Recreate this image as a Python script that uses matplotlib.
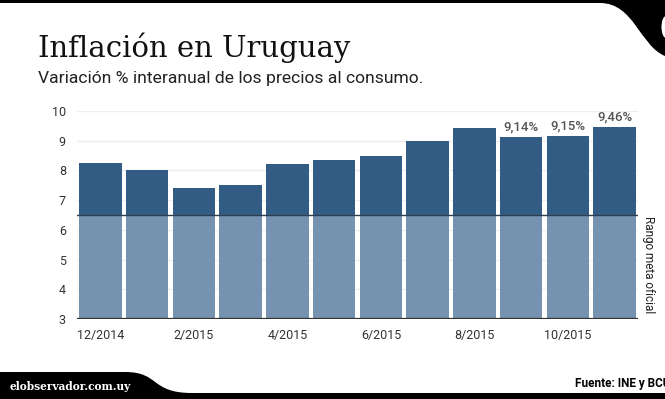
import matplotlib
matplotlib.use("Agg")
import matplotlib.pyplot as plt
import matplotlib.patches as mpatches
from matplotlib.path import Path
import numpy as np

# data
months = ["12/2014", "1/2015", "2/2015", "3/2015", "4/2015", "5/2015",
          "6/2015", "7/2015", "8/2015", "9/2015", "10/2015", "11/2015"]
inflation = [8.24, 8.00, 7.41, 7.52, 8.21, 8.36, 8.49, 8.98, 9.44, 9.14, 9.15, 9.46]
labelled = {9: "9,14%", 10: "9,15%", 11: "9,46%"}
target_low = 3.0
target_high = 6.5
yticks = [3, 4, 5, 6, 7, 8, 9, 10]

dark = "#325c84"
light = "#7593b0"

W, H = 665, 399
fig = plt.figure(figsize=(W / 100, H / 100), dpi=100)

# background layer in pixel coordinates (frame decorations)
bg = fig.add_axes([0, 0, 1, 1])
bg.set_xlim(0, W)
bg.set_ylim(H, 0)
bg.axis("off")

top = Path([(0, 0), (W, 0), (W, 56), (640, 46), (634, 3), (600, 3), (0, 3), (0, 0)],
           [Path.MOVETO, Path.LINETO, Path.LINETO, Path.CURVE4, Path.CURVE4,
            Path.CURVE4, Path.LINETO, Path.CLOSEPOLY])
bg.add_patch(mpatches.PathPatch(top, fc="black", ec="none"))
bg.add_patch(mpatches.Ellipse((666, 27), 9, 22, fc="white", ec="none"))

foot = Path([(0, 372), (125, 372), (160, 372), (150, 393), (192, 393),
             (W, 393), (W, H), (0, H), (0, 372)],
            [Path.MOVETO, Path.LINETO, Path.CURVE4, Path.CURVE4, Path.CURVE4,
             Path.LINETO, Path.LINETO, Path.LINETO, Path.CLOSEPOLY])
bg.add_patch(mpatches.PathPatch(foot, fc="black", ec="none"))

bg.text(10, 390, "elobservador.com.uy", color="white", fontsize=7.7,
        fontweight="bold", family="DejaVu Serif", va="baseline", ha="left")
bg.text(575, 387, "Fuente: INE y BCU", color="black", fontsize=8.5,
        fontweight="bold", family="Roboto", va="baseline", ha="left")

bg.text(38, 57, "Inflación en Uruguay", fontsize=21, family="DejaVu Serif",
        color="#111111", va="baseline", ha="left")
bg.text(38, 83, "Variación % interanual de los precios al consumo.", fontsize=12.6,
        family="Roboto", color="#222222", va="baseline", ha="left")

# chart
ax = fig.add_axes([77 / W, 1 - 319 / H, (638 - 77) / W, (319 - 111) / H])
ax.patch.set_alpha(0)
x = np.arange(len(months))
bw = 0.905
vals = np.array(inflation)
ax.bar(x, vals - target_low, bottom=target_low, width=bw, color=dark, zorder=2)
ax.bar(x, np.full(len(x), target_high - target_low), bottom=target_low, width=bw,
       color=light, zorder=3)
ax.axhline(target_high, color="#2d3e50", lw=1.0, zorder=4)
ax.axhline(target_low, color="#333333", lw=1.6, zorder=5)

for i, txt in labelled.items():
    ax.text(i, inflation[i] + 0.12, txt, ha="center", va="bottom", fontsize=9.5,
            family="Roboto", fontweight="medium", color="#555555")

ax.set_xlim(-0.5, len(x) - 0.5)
ax.set_ylim(3, 10)
ax.set_yticks(yticks)
ax.set_yticklabels([str(v) for v in yticks])
ax.set_xticks(x[::2])
ax.set_xticklabels(months[::2])
ax.tick_params(length=0, labelsize=9, colors="#333333", pad=8)
ax.tick_params(axis="x", pad=7)
for lab in ax.get_xticklabels() + ax.get_yticklabels():
    lab.set_family("Roboto")
for s in ax.spines.values():
    s.set_visible(False)
ax.yaxis.grid(True, color="#eeeeee", lw=1, zorder=0)
ax.set_axisbelow(True)

ax.text(1.008, 0.26, "Rango meta oficial", transform=ax.transAxes, rotation=-90,
        ha="left", va="center", fontsize=8.5, family="Roboto", color="#222222")

fig.savefig("out.png", dpi=100)
